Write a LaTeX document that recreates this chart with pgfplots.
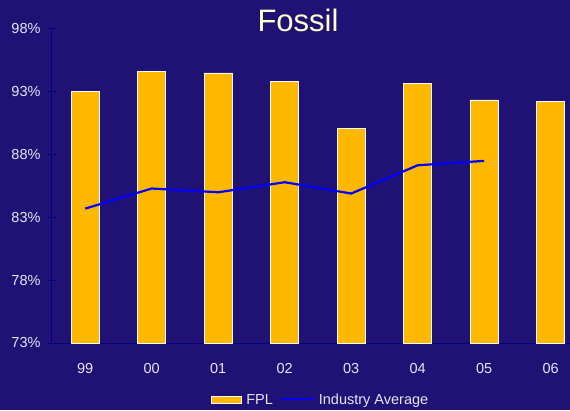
\documentclass[border=0pt]{standalone}
\usepackage{pgfplots}
\pgfplotsset{compat=1.18}
\usepackage{fontspec}
\setmainfont{Liberation Sans}
\definecolor{bg}{HTML}{201274}
\definecolor{bar}{HTML}{FFB800}
\definecolor{axisc}{HTML}{000080}
\definecolor{lab}{HTML}{E6E4F2}
\definecolor{ttl}{HTML}{FFFFCC}
\begin{document}
\begin{tikzpicture}[x=1pt,y=1pt]
\fill[bg] (0,0) rectangle (570,410);
\useasboundingbox (0,0) rectangle (570,410);
\node[text=ttl,font=\fontsize{31}{35}\selectfont] at (298,390) {Fossil};
\begin{axis}[
  at={(52pt,67pt)}, anchor=south west,
  scale only axis, width=518pt, height=314pt,
  xmin=-0.5, xmax=7.29, ymin=73, ymax=98,
  axis x line*=bottom, axis y line*=left,
  axis line style={axisc, line width=1pt},
  xtick={0,...,7}, xticklabels={99,00,01,02,03,04,05,06},
  ytick={73,78,83,88,93,98},
  yticklabel={\pgfmathprintnumber{\tick}\%},
  /pgf/number format/assume math mode=true,
  tick label style={text=lab, font=\fontsize{14.5}{16}\selectfont},
  xtick style={draw=none},
  ytick style={axisc, line width=1pt},
  tick align=center, major tick length=10pt,
  xticklabel style={yshift=-12pt},
  yticklabel style={xshift=-3pt},
  legend style={at={(0.519,-0.1815)}, anchor=center, draw=none, fill=none,
    text=lab, font=\fontsize{14.5}{16}\selectfont, legend columns=2,
    /tikz/every odd column/.append style={column sep=2pt},
    /tikz/every even column/.append style={column sep=5pt}},
  legend image code/.code={\draw[#1] (0pt,-3pt) rectangle (30pt,4pt);},
]
\addplot[ybar, bar width=28pt, fill=bar, draw=white, line width=0.8pt,
  legend image code/.code={\draw[fill=bar,draw=white,line width=0.8pt] (0pt,-3pt) rectangle (30pt,4pt);}]
  coordinates {(0,93.0) (1,94.6) (2,94.5) (3,93.8) (4,90.1) (5,93.7) (6,92.35) (7,92.2)};
\addlegendentry{FPL}
\addplot[blue, line width=2.2pt, mark=none,
  legend image code/.code={\draw[blue,line width=2pt] (0pt,0.5pt) -- (33pt,0.5pt);}]
  coordinates {(0,83.7) (1,85.3) (2,85.0) (3,85.8) (4,84.9) (5,87.15) (6,87.5)};
\addlegendentry{Industry Average}
\end{axis}
\end{tikzpicture}
\end{document}
